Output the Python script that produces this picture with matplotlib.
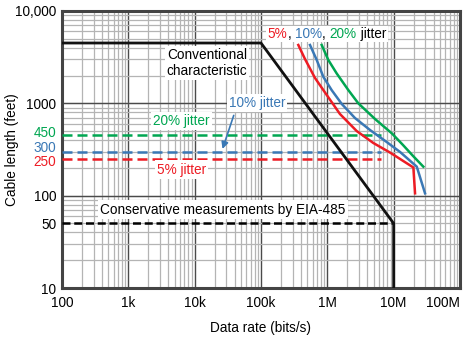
import numpy as np
import matplotlib
matplotlib.use("Agg")
import matplotlib.pyplot as plt
from matplotlib.ticker import LogLocator, NullFormatter
from matplotlib.transforms import ScaledTranslation
from matplotlib.offsetbox import TextArea, HPacker, AnnotationBbox

plt.rcParams['font.family'] = ['Liberation Sans', 'DejaVu Sans']

RED = "#ed1c24"
BLUE = "#3a78b5"
GREEN = "#00a651"
GRID_DARK = "#4a4a4a"
GRID_LIGHT = "#b4b4b4"

# conventional RS-485 characteristic
conv_rate = [1e2, 1e5, 1e7, 1e7]
conv_len = [4500, 4500, 50, 10]

# jitter curves
red_rate = [3.65e5, 4.6e5, 6.52e5, 9.8e5, 1.55e6, 2.77e6, 4.93e6, 8.81e6, 1.98e7, 2.1e7]
red_len = [4285, 3020, 1880, 1230, 766, 501, 372, 293, 202, 106]

blue_rate = [5.48e5, 6.92e5, 8.69e5, 1.16e6, 1.65e6, 2.61e6, 4.4e6, 7.85e6, 1.25e7, 2.23e7, 2.97e7]
blue_len = [4285, 2945, 1940, 1393, 984, 693, 514, 381, 297, 206, 106]

green_rate = [8.22e5, 1.035e6, 1.38e6, 2.07e6, 2.93e6, 5.24e6, 9.44e6, 1.38e7, 1.96e7, 2.8e7]
green_len = [4285, 2945, 2113, 1393, 1000, 676, 471, 354, 269, 206]

# dashed limits
eia_len = 50
jitter_limits = [(450, GREEN), (300, BLUE), (250, RED)]
jitter_end = 6.5e6

xticks = [1e2, 1e3, 1e4, 1e5, 1e6, 1e7, 1e8]
xlabels = ["100", "1k", "10k", "100k", "1M", "10M", "100M"]
yticks = [10, 50, 100, 250, 300, 450, 1000, 10000]
ylabels = ["10", "50", "100", "250", "300", "450", "1000", "10,000"]
ylabel_colors = ["black", "black", "black", RED, BLUE, GREEN, "black", "black"]
ylabel_shift = [0, 0, 0, -2, 5, 4, 0, 0]   # px, to keep 250/300/450 apart

fs = 9.8

fig = plt.figure(figsize=(4.64, 3.37), dpi=100)
ax = fig.add_axes([0.1336, 0.1454, 0.8578, 0.822])
ax.set_xscale("log")
ax.set_yscale("log")
ax.set_xlim(1e2, 1e8)
ax.set_ylim(10, 10000)

# grid
ax.set_axisbelow(True)
ax.xaxis.set_minor_locator(LogLocator(base=10, subs=np.arange(2, 10), numticks=20))
ax.yaxis.set_minor_locator(LogLocator(base=10, subs=np.arange(1, 10), numticks=20))
ax.yaxis.remove_overlapping_locs = False
ax.xaxis.set_minor_formatter(NullFormatter())
ax.yaxis.set_minor_formatter(NullFormatter())
ax.grid(which="minor", color=GRID_LIGHT, lw=0.9)
ax.grid(which="major", axis="x", color=GRID_DARK, lw=1.0)
for v in [10, 100, 1000, 10000]:
    ax.axhline(v, color=GRID_DARK, lw=1.0, zorder=0.6)

ax.tick_params(which="both", length=0, labelsize=fs)
ax.tick_params(axis="x", pad=6)
ax.tick_params(axis="y", pad=4)
ax.set_xticks(xticks)
ax.set_xticklabels(xlabels)
ax.get_xticklabels()[-1].set_horizontalalignment("right")
ax.set_yticks(yticks)
ax.set_yticklabels(ylabels)
for lab, c, dy in zip(ax.get_yticklabels(), ylabel_colors, ylabel_shift):
    lab.set_color(c)
    if dy:
        lab.set_transform(lab.get_transform() + ScaledTranslation(0, dy / 100, fig.dpi_scale_trans))

for s in ax.spines.values():
    s.set_color("#444444")
    s.set_linewidth(2.2)

# dashed limits
ax.plot([1e2, 1e7], [eia_len, eia_len], color="black", lw=1.8, dashes=(3.2, 1.5), zorder=3)
for val, c in jitter_limits:
    ax.plot([1e2, jitter_end], [val, val], color=c, lw=1.8, dashes=(4, 2), zorder=3)

# curves
ax.plot(conv_rate, conv_len, color="#111111", lw=2, zorder=4)
ax.plot(red_rate, red_len, color=RED, lw=1.8, zorder=4)
ax.plot(blue_rate, blue_len, color=BLUE, lw=1.8, zorder=4)
ax.plot(green_rate, green_len, color=GREEN, lw=1.8, zorder=4)

box = dict(boxstyle="square,pad=0.15", fc="white", ec="none")

ax.text(1.53e4, 2735, "Conventional\ncharacteristic", fontsize=fs, ha="center", va="center",
        linespacing=1.1, bbox=box, zorder=5)
ax.text(8.7e4, 1000, "10% jitter", color=BLUE, fontsize=fs, ha="center", va="center",
        bbox=box, zorder=5)
ax.annotate("", xy=(2.55e4, 300), xytext=(4.0e4, 790),
            arrowprops=dict(arrowstyle="-|>", color=BLUE, lw=1.2, mutation_scale=10), zorder=5)
ax.text(6.3e3, 649, "20% jitter", color=GREEN, fontsize=fs, ha="center", va="center",
        bbox=box, zorder=5)
ax.text(6.4e3, 192, "5% jitter", color=RED, fontsize=fs, ha="center", va="center",
        bbox=box, zorder=5)
ax.text(2.67e4, 70.8, "Conservative measurements by EIA-485", fontsize=fs, ha="center",
        va="center", bbox=box, zorder=5)

parts = [("5%", RED), (", ", "black"), ("10%", BLUE), (", ", "black"), ("20%", GREEN), (" jitter", "black")]
areas = [TextArea(t, textprops=dict(color=c, fontsize=fs)) for t, c in parts]
pack = HPacker(children=areas, align="baseline", pad=0, sep=0)
ab = AnnotationBbox(pack, (9.9e5, 5640), xycoords="data", frameon=True, pad=0.1,
                    bboxprops=dict(fc="white", ec="none"), zorder=5)
ax.add_artist(ab)

ax.set_xlabel("Data rate (bits/s)", fontsize=fs, labelpad=8)
fig.text(12 / 464, 0.556, "Cable length (feet)", fontsize=fs, rotation=90,
         ha="center", va="center")

fig.savefig("out.png", dpi=100)
